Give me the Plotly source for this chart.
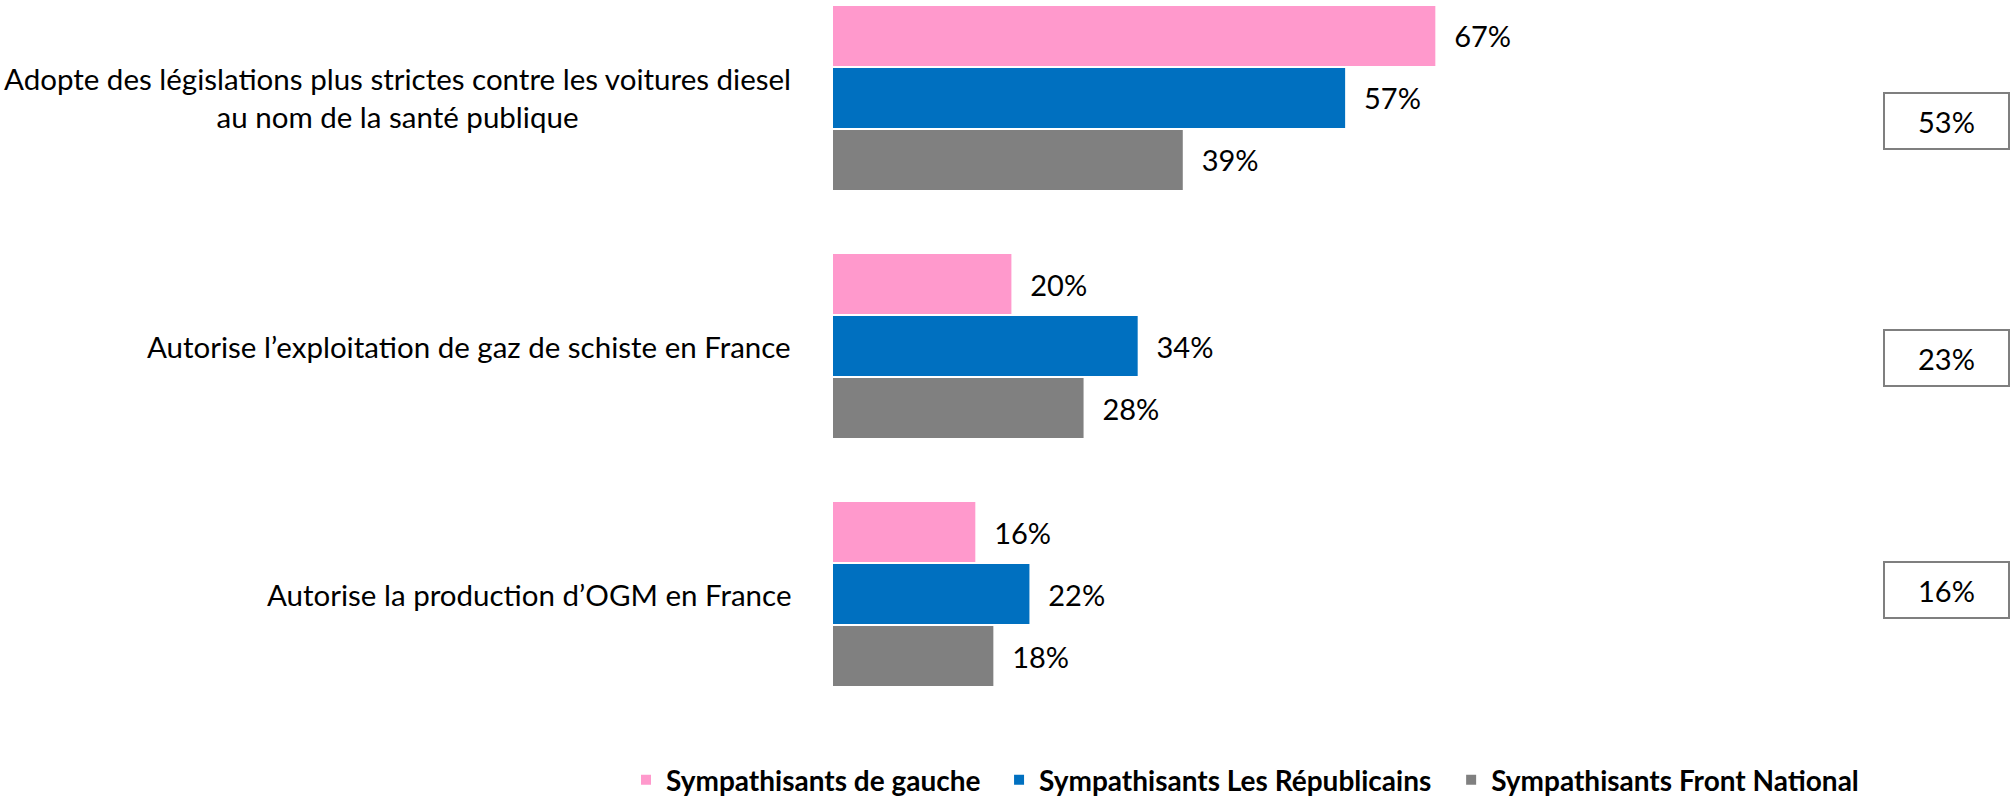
import plotly.graph_objects as go

categories = [
    "Adopte des législations plus strictes contre les voitures diesel<br>au nom de la santé publique",
    "Autorise l’exploitation de gaz de schiste en France",
    "Autorise la production d’OGM en France",
]
series_names = ["Sympathisants de gauche", "Sympathisants Les Républicains", "Sympathisants Front National"]
gauche = [67, 20, 16]
republicains = [57, 34, 22]
front_national = [39, 28, 18]
ensemble = [53, 23, 16]

colors = ["#FF99CC", "#0070C0", "#808080"]
FONT = "Lato, sans-serif"
NB = "\u00a0\u00a0"
legend_ids = ["legend", "legend2", "legend3"]
legend_x = [0.3113, 0.4968, 0.7216]

fig = go.Figure()
for name, vals, col, lid in zip(series_names, [gauche, republicains, front_national], colors, legend_ids):
    fig.add_trace(go.Bar(
        y=categories, x=vals, name=name, orientation="h", legend=lid,
        marker=dict(color=col, line=dict(color="white", width=2)),
        text=[f"{NB}{v}%" for v in vals], textposition="outside",
        textfont=dict(size=29, color="black", family=FONT),
        constraintext="none", cliponaxis=False,
    ))

annotations = []
for cat in categories:
    annotations.append(dict(
        x=0, xref="paper", y=cat, yref="y", xanchor="right", yanchor="middle",
        xshift=-39, text=cat, showarrow=False, align="center",
        font=dict(size=29.5, color="black", family=FONT),
    ))
box_shift = [-23, -12, 4]
for cat, v, s in zip(categories, ensemble, box_shift):
    annotations.append(dict(
        x=1, xref="paper", y=cat, yref="y", xanchor="right", yanchor="middle",
        yshift=s, text=f"{v}%", showarrow=False, width=123, height=54,
        bordercolor="#7F7F7F", borderwidth=2, borderpad=0, bgcolor="white",
        font=dict(size=29, color="black", family=FONT),
    ))

legend_style = dict(orientation="h", xref="container", yref="container",
                    xanchor="left", y=0.026, yanchor="middle",
                    font=dict(size=28, color="black", family=FONT, weight="bold"),
                    itemwidth=30, bgcolor="rgba(0,0,0,0)")
legends = {lid: dict(legend_style, x=lx) for lid, lx in zip(legend_ids, legend_x)}

fig.update_layout(
    width=2011, height=801,
    margin=dict(l=832, r=1, t=0, b=101),
    barmode="group", bargap=0.25, bargroupgap=0,
    plot_bgcolor="white", paper_bgcolor="white",
    xaxis=dict(range=[0, 130.6], visible=False),
    yaxis=dict(range=[2.427, -0.395], showticklabels=False, showgrid=False,
               zeroline=False, showline=False, ticks=""),
    showlegend=True,
    annotations=annotations,
    font=dict(family=FONT),
    **legends,
)
fig.write_html("out.html", config={"displayModeBar": False},
               post_script="document.body.style.margin='0';document.body.style.overflow='hidden';")
